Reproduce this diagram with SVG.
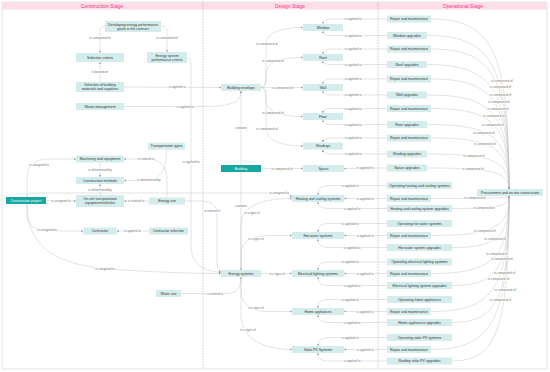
<svg xmlns="http://www.w3.org/2000/svg" width="550" height="372" viewBox="0 0 550 372">
<style>
.nd{fill:#d4ecec}
.tl{fill:#17a6a0}
.nt{font-family:"Liberation Sans",Arial,sans-serif;font-size:3.5px;fill:#333;text-anchor:middle;dominant-baseline:central}
.wt{fill:#fff}
.lk{fill:none;stroke:#c6c6c6;stroke-width:0.5;marker-end:url(#ar)}
.lb{font-family:"Liberation Sans",Arial,sans-serif;font-size:3.2px;fill:#777;text-anchor:middle;dominant-baseline:central;stroke:#fff;stroke-width:1.4;paint-order:stroke}
.hd{font-family:"Liberation Sans",Arial,sans-serif;font-size:5px;fill:#f0378d;text-anchor:middle;dominant-baseline:central}
.sep{stroke:#aaa;stroke-width:0.6;stroke-dasharray:1.5 1.2}
</style>
<defs>
<marker id="ar" viewBox="0 0 6 6" refX="6" refY="3" markerWidth="2.4" markerHeight="2.4" markerUnits="userSpaceOnUse" orient="auto"><path d="M0,0 L6,3 L0,6 z" fill="#999"/></marker>
</defs>
<rect x="0" y="0" width="550" height="372" fill="#fff"/>
<g id="frame">
<rect x="2" y="2" width="545" height="367" fill="#fff" stroke="#cfcfcf" stroke-width="0.6"/>
<rect x="2.3" y="2.3" width="544.4" height="7.2" fill="#fddde6"/>
<text class="hd" x="102" y="6">Construction Stage</text>
<text class="hd" x="290" y="6">Design Stage</text>
<text class="hd" x="463" y="6">Operational Stage</text>
<line class="sep" x1="203" y1="2" x2="203" y2="369"/>
<line class="sep" x1="378" y1="2" x2="378" y2="369"/>
</g>

<g id="connectors">
<!-- construction -->
<path class="lk" d="M105,26 C101,26 100,28 100,33 L100,53"/><text class="lb" x="100" y="38">is composed of</text>
<path class="lk" d="M161,26 C166,26 167,28 167,33 L167,52"/><text class="lb" x="167" y="38">is composed of</text>
<path class="lk" d="M100,82 L100,62"/><text class="lb" x="100" y="72">is based on</text>
<path class="lk" d="M124,87 L221,87.5"/><text class="lb" x="177" y="87.3">is applied to</text>
<path class="lk" d="M124,106.5 L205,106.5 C233,106.5 241,101 241,91"/><text class="lb" x="185" y="106.5">is applied to</text>
<path class="lk" d="M187,58 C191,58 191,62 191,70 L191,245 C191,265 205,272 221,272.3"/><text class="lb" x="191" y="162">is applied to</text>
<path class="lk" d="M185,201 L201,201 C213,201 217,206 217,216 L217,262 C217,268 218,271 221,271.5"/><text class="lb" x="212" y="210.5">is related to</text>
<path class="lk" d="M181,293.5 L226,293.5 C236,293.5 241,288 241,277"/><text class="lb" x="215" y="293.5">is related to</text>
<path class="lk" d="M46,200.5 L76,201"/><text class="lb" x="61" y="200.8">is assigned to</text>
<path class="lk" d="M27,197 L27,180 C27,166 33,159 50,159 L76,159"/><text class="lb" x="39" y="164.5">is assigned to</text>
<path class="lk" d="M27,204 L27,214 C27,225 34,231 52,231 L83,231"/><text class="lb" x="47" y="229.5">is assigned to</text>
<path class="lk" d="M27,204 C27,250 60,265 110,269 C150,272 190,273.5 221,273.5"/><text class="lb" x="105" y="268.8">is assigned to</text>
<path class="lk" d="M27,197 C27,194 29,193 33,193 L282,193 C288,193 290,196 292,197"/><text class="lb" x="279" y="193">is assigned to</text>
<path class="lk" d="M100,162.5 L100,177"/><text class="lb" x="100" y="170">is determined by</text>
<path class="lk" d="M100,195 L100,184"/><text class="lb" x="100" y="189.5">is determined by</text>
<path class="lk" d="M166.5,149.5 C166.5,168 162,180.5 145,180.5 L124,180.5"/><text class="lb" x="149" y="180">is determined by</text>
<path class="lk" d="M167,197.5 L167,180 C167,166 160,159 148,159 L124,159"/><text class="lb" x="146" y="159">is related to</text>
<path class="lk" d="M149,201 L124,201"/><text class="lb" x="136" y="201">is related to</text>
<path class="lk" d="M149,231 L117,231"/><text class="lb" x="132.5" y="231">is applied to</text>
<!-- design -->
<path class="lk" d="M241,165 L241,91"/><text class="lb" x="241" y="128">contains</text>
<path class="lk" d="M241,172 L241,270"/><text class="lb" x="241" y="206">contains</text>
<path class="lk" d="M261,87.5 C266,87.5 266,80 266,70 L266,45 C266,33 280,27.5 303,27.5"/><text class="lb" x="267" y="44">is composed of</text>
<path class="lk" d="M261,87.5 C266,87.5 266,82 266,75 C266,62 278,57.5 303,57.5"/><text class="lb" x="273" y="61">is composed of</text>
<path class="lk" d="M261,87.5 L303,87.5"/><text class="lb" x="283" y="87.5">is composed of</text>
<path class="lk" d="M261,87.5 C266,87.5 266,93 266,100 C266,111 278,116.5 303,116.5"/><text class="lb" x="273" y="113">is composed of</text>
<path class="lk" d="M261,87.5 C266,87.5 266,95 266,105 L266,128 C266,140 280,146 303,146"/><text class="lb" x="267" y="129">is composed of</text>
<path class="lk" d="M261,168.5 L303,168.5"/><text class="lb" x="282" y="168.5">is composed of</text>
<path class="lk" d="M241,270 L241,225 C241,208 258,198.5 292,198.5"/><text class="lb" x="252" y="213">is a type of</text>
<path class="lk" d="M241,270 L241,255 C241,242 250,235.5 270,235.5 L292,235.5"/><text class="lb" x="256" y="239">is a type of</text>
<path class="lk" d="M261,273.5 L292,273.5"/><text class="lb" x="277" y="273.5">is a type of</text>
<path class="lk" d="M241,277 L241,290 C241,303 250,311.5 270,311.5 L292,311.5"/><text class="lb" x="256" y="308">is a type of</text>
<path class="lk" d="M241,277 L241,315 C241,335 258,349.5 292,349.5"/><text class="lb" x="248" y="330">is a type of</text>
<!-- design <- operational -->
<path class="lk" d="M387,19 L332,19 C325.5,19 323,20.5 323,24"/><text class="lb" x="353" y="19">is applied to</text>
<path class="lk" d="M387,35.5 L332,35.5 C325.5,35.5 323,34 323,31"/><text class="lb" x="353" y="35.5">is applied to</text>
<path class="lk" d="M387,49 L332,49 C325.5,49 323,50.5 323,54"/><text class="lb" x="353" y="49">is applied to</text>
<path class="lk" d="M387,64.5 L332,64.5 C325.5,64.5 323,63 323,61"/><text class="lb" x="353" y="64.5">is applied to</text>
<path class="lk" d="M387,79 L332,79 C325.5,79 323,80.5 323,84"/><text class="lb" x="353" y="79">is applied to</text>
<path class="lk" d="M387,95 L332,95 C325.5,95 323,93.5 323,91"/><text class="lb" x="353" y="95">is applied to</text>
<path class="lk" d="M387,108.5 L332,108.5 C325.5,108.5 323,110 323,113"/><text class="lb" x="353" y="108.5">is applied to</text>
<path class="lk" d="M387,124.5 L332,124.5 C325.5,124.5 323,123 323,120"/><text class="lb" x="353" y="124.5">is applied to</text>
<path class="lk" d="M387,138 L332,138 C325.5,138 323,139.5 323,142.5"/><text class="lb" x="353" y="138">is applied to</text>
<path class="lk" d="M387,154 L332,154 C325.5,154 323,152.5 323,149.5"/><text class="lb" x="353" y="154">is applied to</text>
<path class="lk" d="M387,168 L344,168.5"/><text class="lb" x="365" y="168.3">is applied to</text>
<path class="lk" d="M387,185.5 L330,185.5 C321,185.5 318,188 318,195"/><text class="lb" x="350" y="185.5">is applied to</text>
<path class="lk" d="M387,198.5 L344,198.5"/><text class="lb" x="365" y="198.5">is applied to</text>
<path class="lk" d="M387,208.5 L330,208.5 C321,208.5 318,206 318,202"/><text class="lb" x="352" y="208.5">is applied to</text>
<path class="lk" d="M387,223.5 L330,223.5 C321,223.5 318,226 318,232"/><text class="lb" x="350" y="223.5">is applied to</text>
<path class="lk" d="M387,235.5 L344,235.5"/><text class="lb" x="365" y="235.5">is applied to</text>
<path class="lk" d="M387,247.5 L330,247.5 C321,247.5 318,245 318,239"/><text class="lb" x="352" y="247.5">is applied to</text>
<path class="lk" d="M387,262 L330,262 C321,262 318,264.5 318,270"/><text class="lb" x="350" y="262">is applied to</text>
<path class="lk" d="M387,273.5 L344,273.5"/><text class="lb" x="365" y="273.5">is applied to</text>
<path class="lk" d="M387,285.5 L330,285.5 C321,285.5 318,283 318,277"/><text class="lb" x="352" y="285.5">is applied to</text>
<path class="lk" d="M387,299.5 L330,299.5 C321,299.5 318,302 318,308"/><text class="lb" x="350" y="299.5">is applied to</text>
<path class="lk" d="M387,311.5 L344,311.5"/><text class="lb" x="365" y="311.5">is applied to</text>
<path class="lk" d="M387,322.5 L330,322.5 C321,322.5 318,320 318,315"/><text class="lb" x="352" y="322.5">is applied to</text>
<path class="lk" d="M387,337.5 L330,337.5 C321,337.5 318,340 318,346"/><text class="lb" x="350" y="337.5">is applied to</text>
<path class="lk" d="M387,349.5 L344,349.5"/><text class="lb" x="365" y="349.5">is applied to</text>
<path class="lk" d="M387,361 L330,361 C321,361 318,358.5 318,353"/><text class="lb" x="352" y="361">is applied to</text>
<!-- operational -> procurement -->
<path class="lk" d="M431,19 C493.4,19 509,53 509,189"/>
<path class="lk" d="M427,35.5 C492.6,35.5 509,66.2 509,189"/>
<path class="lk" d="M431,49 C493.4,49 509,77 509,189"/>
<path class="lk" d="M427,64.5 C492.6,64.5 509,89.4 509,189"/>
<path class="lk" d="M431,79 C493.4,79 509,101 509,189"/>
<path class="lk" d="M427,95 C492.6,95 509,113.8 509,189"/>
<path class="lk" d="M431,108.5 C493.4,108.5 509,124.6 509,189"/>
<path class="lk" d="M427,124.5 C492.6,124.5 509,137.4 509,189"/>
<path class="lk" d="M431,138 C493.4,138 509,148.2 509,189"/>
<path class="lk" d="M427,154 C492.6,154 509,161 509,189"/>
<path class="lk" d="M427,168 C492.6,168 509,172.2 509,189"/>
<path class="lk" d="M431,198.5 C493.4,198.5 509,198 509,196"/>
<path class="lk" d="M452,208.5 C497.6,208.5 509,206 509,196"/>
<path class="lk" d="M431,235.5 C493.4,235.5 509,227.2 509,196"/>
<path class="lk" d="M452,247.5 C497.6,247.5 509,237.2 509,196"/>
<path class="lk" d="M431,273.5 C493.4,273.5 509,258 509,196"/>
<path class="lk" d="M452,285.5 C497.6,285.5 509,267.6 509,196"/>
<path class="lk" d="M431,311.5 C493.4,311.5 509,288.4 509,196"/>
<path class="lk" d="M452,322.5 C497.6,322.5 509,297.2 509,196"/>
<path class="lk" d="M431,349.5 C493.4,349.5 509,318.8 509,196"/>
<path class="lk" d="M452,361 C497.6,361 509,328 509,196"/>
<text class="lb" x="502" y="81">is composed of</text>
<text class="lb" x="500.5" y="87">is composed of</text>
<text class="lb" x="500.5" y="95">is composed of</text>
<text class="lb" x="499" y="102">is composed of</text>
<text class="lb" x="498" y="109">is composed of</text>
<text class="lb" x="494" y="115.5">is composed of</text>
<text class="lb" x="493" y="124.5">is composed of</text>
<text class="lb" x="484" y="132.5">is composed of</text>
<text class="lb" x="485" y="144">is composed of</text>
<text class="lb" x="474" y="156">is composed of</text>
<text class="lb" x="473" y="169">is composed of</text>
<text class="lb" x="475" y="198.4">is composed of</text>
<text class="lb" x="484" y="207.7">is composed of</text>
<text class="lb" x="485" y="230.5">is composed of</text>
<text class="lb" x="495" y="239.4">is composed of</text>
<text class="lb" x="497" y="254.3">is composed of</text>
<text class="lb" x="502" y="258.6">is composed of</text>
<text class="lb" x="504.4" y="273.2">is composed of</text>
<text class="lb" x="498.4" y="279.2">is composed of</text>
<text class="lb" x="505.2" y="289.8">is composed of</text>
<text class="lb" x="500.5" y="299.5">is composed of</text>
</g>

<!-- construction nodes -->
<g id="n-dev"><rect class="nd" x="105" y="21" width="56" height="11"/><text class="nt" x="133" y="24.6">Developing energy performance</text><text class="nt" x="133" y="28.6">goals in the contract</text></g>
<g id="n-selcrit"><rect class="nd" x="76" y="53" width="48" height="9"/><text class="nt" x="100" y="57.5">Selection criteria</text></g>
<g id="n-escrit"><rect class="nd" x="147" y="52" width="40" height="11"/><text class="nt" x="167" y="55.6">Energy system</text><text class="nt" x="167" y="59.6">performance criteria</text></g>
<g id="n-selmat"><rect class="nd" x="76" y="82" width="48" height="10"/><text class="nt" x="100" y="85.1">Selection of building</text><text class="nt" x="100" y="89.1">materials and suppliers</text></g>
<g id="n-waste"><rect class="nd" x="76" y="103" width="48" height="7"/><text class="nt" x="100" y="106.5">Waste management</text></g>
<g id="n-transtypes"><rect class="nd" x="148" y="142.7" width="37" height="7"/><text class="nt" x="166.5" y="146.2">Transportation types</text></g>
<g id="n-machinery"><rect class="nd" x="76" y="155.5" width="48" height="7"/><text class="nt" x="100" y="159">Machinery and equipment</text></g>
<g id="n-methods"><rect class="nd" x="76" y="177" width="48" height="7"/><text class="nt" x="100" y="180.5">Construction methods</text></g>
<g id="n-onsite"><rect class="nd" x="76" y="195" width="48" height="12"/><text class="nt" x="100" y="199.1">On-site transportation</text><text class="nt" x="100" y="203.1">equipment/vehicles</text></g>
<g id="n-project"><rect class="tl" x="6" y="197" width="40" height="7"/><text class="nt wt" x="26" y="200.5">Construction project</text></g>
<g id="n-energyuse"><rect class="nd" x="149" y="197.5" width="36" height="7"/><text class="nt" x="167" y="201">Energy use</text></g>
<g id="n-contractor"><rect class="nd" x="83" y="227.5" width="34" height="7"/><text class="nt" x="100" y="231">Contractor</text></g>
<g id="n-contsel"><rect class="nd" x="149" y="227.5" width="39" height="7"/><text class="nt" x="168.5" y="231">Contractor selection</text></g>
<g id="n-water"><rect class="nd" x="156" y="290" width="25" height="7"/><text class="nt" x="168.5" y="293.5">Water use</text></g>

<!-- design nodes -->
<g id="n-window"><rect class="nd" x="303" y="24" width="40" height="7"/><text class="nt" x="323" y="27.5">Window</text></g>
<g id="n-roof"><rect class="nd" x="303" y="54" width="40" height="7"/><text class="nt" x="323" y="57.5">Roof</text></g>
<g id="n-wall"><rect class="nd" x="303" y="84" width="40" height="7"/><text class="nt" x="323" y="87.5">Wall</text></g>
<g id="n-floor"><rect class="nd" x="303" y="113" width="40" height="7"/><text class="nt" x="323" y="116.5">Floor</text></g>
<g id="n-shadings"><rect class="nd" x="303" y="142.5" width="40" height="7"/><text class="nt" x="323" y="146">Shadings</text></g>
<g id="n-envelope"><rect class="nd" x="221" y="84" width="40" height="7"/><text class="nt" x="241" y="87.5">Building envelope</text></g>
<g id="n-building"><rect class="tl" x="221" y="165" width="40" height="7"/><text class="nt wt" x="241" y="168.5">Building</text></g>
<g id="n-space"><rect class="nd" x="303" y="165" width="41" height="7"/><text class="nt" x="323.5" y="168.5">Space</text></g>
<g id="n-esys"><rect class="nd" x="221" y="270" width="40" height="7"/><text class="nt" x="241" y="273.5">Energy systems</text></g>
<g id="n-heating"><rect class="nd" x="292" y="195" width="52" height="7"/><text class="nt" x="318" y="198.5">Heating and cooling systems</text></g>
<g id="n-hotwater"><rect class="nd" x="292" y="232" width="52" height="7"/><text class="nt" x="318" y="235.5">Hot water systems</text></g>
<g id="n-electrical"><rect class="nd" x="292" y="270" width="52" height="7"/><text class="nt" x="318" y="273.5">Electrical lighting systems</text></g>
<g id="n-home"><rect class="nd" x="292" y="308" width="52" height="7"/><text class="nt" x="318" y="311.5">Home appliances</text></g>
<g id="n-solar"><rect class="nd" x="292" y="346" width="52" height="7"/><text class="nt" x="318" y="349.5">Solar PV Systems</text></g>

<!-- operational nodes -->
<g id="o-rm1"><rect class="nd" x="387" y="15.5" width="44" height="7"/><text class="nt" x="409" y="19">Repair and maintenance</text></g>
<g id="o-window"><rect class="nd" x="387" y="32" width="40" height="7"/><text class="nt" x="407" y="35.5">Window upgrades</text></g>
<g id="o-rm2"><rect class="nd" x="387" y="45.5" width="44" height="7"/><text class="nt" x="409" y="49">Repair and maintenance</text></g>
<g id="o-roof"><rect class="nd" x="387" y="61" width="40" height="7"/><text class="nt" x="407" y="64.5">Roof upgrades</text></g>
<g id="o-rm3"><rect class="nd" x="387" y="75.5" width="44" height="7"/><text class="nt" x="409" y="79">Repair and maintenance</text></g>
<g id="o-wall"><rect class="nd" x="387" y="91.5" width="40" height="7"/><text class="nt" x="407" y="95">Wall upgrades</text></g>
<g id="o-rm4"><rect class="nd" x="387" y="105" width="44" height="7"/><text class="nt" x="409" y="108.5">Repair and maintenance</text></g>
<g id="o-floor"><rect class="nd" x="387" y="121" width="40" height="7"/><text class="nt" x="407" y="124.5">Floor upgrades</text></g>
<g id="o-rm5"><rect class="nd" x="387" y="134.5" width="44" height="7"/><text class="nt" x="409" y="138">Repair and maintenance</text></g>
<g id="o-shading"><rect class="nd" x="387" y="150.5" width="40" height="7"/><text class="nt" x="407" y="154">Shading upgrades</text></g>
<g id="o-space"><rect class="nd" x="387" y="164.5" width="40" height="7"/><text class="nt" x="407" y="168">Space upgrades</text></g>
<g id="o-ophc"><rect class="nd" x="387" y="182" width="65" height="7"/><text class="nt" x="419.5" y="185.5">Operating heating and cooling systems</text></g>
<g id="o-rm6"><rect class="nd" x="387" y="195" width="44" height="7"/><text class="nt" x="409" y="198.5">Repair and maintenance</text></g>
<g id="o-hcup"><rect class="nd" x="387" y="205" width="65" height="7"/><text class="nt" x="419.5" y="208.5">Heating and cooling system upgrades</text></g>
<g id="o-ophw"><rect class="nd" x="387" y="220" width="65" height="7"/><text class="nt" x="419.5" y="223.5">Operating hot water systems</text></g>
<g id="o-rm7"><rect class="nd" x="387" y="232" width="44" height="7"/><text class="nt" x="409" y="235.5">Repair and maintenance</text></g>
<g id="o-hwup"><rect class="nd" x="387" y="244" width="65" height="7"/><text class="nt" x="419.5" y="247.5">Hot water system upgrades</text></g>
<g id="o-opel"><rect class="nd" x="387" y="258.5" width="65" height="7"/><text class="nt" x="419.5" y="262">Operating electrical lighting systems</text></g>
<g id="o-rm8"><rect class="nd" x="387" y="270" width="44" height="7"/><text class="nt" x="409" y="273.5">Repair and maintenance</text></g>
<g id="o-elup"><rect class="nd" x="387" y="282" width="65" height="7"/><text class="nt" x="419.5" y="285.5">Electrical lighting system upgrades</text></g>
<g id="o-opha"><rect class="nd" x="387" y="296" width="65" height="7"/><text class="nt" x="419.5" y="299.5">Operating home appliances</text></g>
<g id="o-rm9"><rect class="nd" x="387" y="308" width="44" height="7"/><text class="nt" x="409" y="311.5">Repair and maintenance</text></g>
<g id="o-haup"><rect class="nd" x="387" y="319" width="65" height="7"/><text class="nt" x="419.5" y="322.5">Home appliances  upgrades</text></g>
<g id="o-oppv"><rect class="nd" x="387" y="334" width="65" height="7"/><text class="nt" x="419.5" y="337.5">Operating solar PV systems</text></g>
<g id="o-rm10"><rect class="nd" x="387" y="346" width="44" height="7"/><text class="nt" x="409" y="349.5">Repair and maintenance</text></g>
<g id="o-pvup"><rect class="nd" x="387" y="357.5" width="65" height="7"/><text class="nt" x="419.5" y="361">Rooftop solar PV upgrades</text></g>
<g id="o-procure"><rect class="nd" x="477" y="189" width="66" height="7"/><text class="nt" x="510" y="192.5">Procurement and on-site construction</text></g>
</svg>
